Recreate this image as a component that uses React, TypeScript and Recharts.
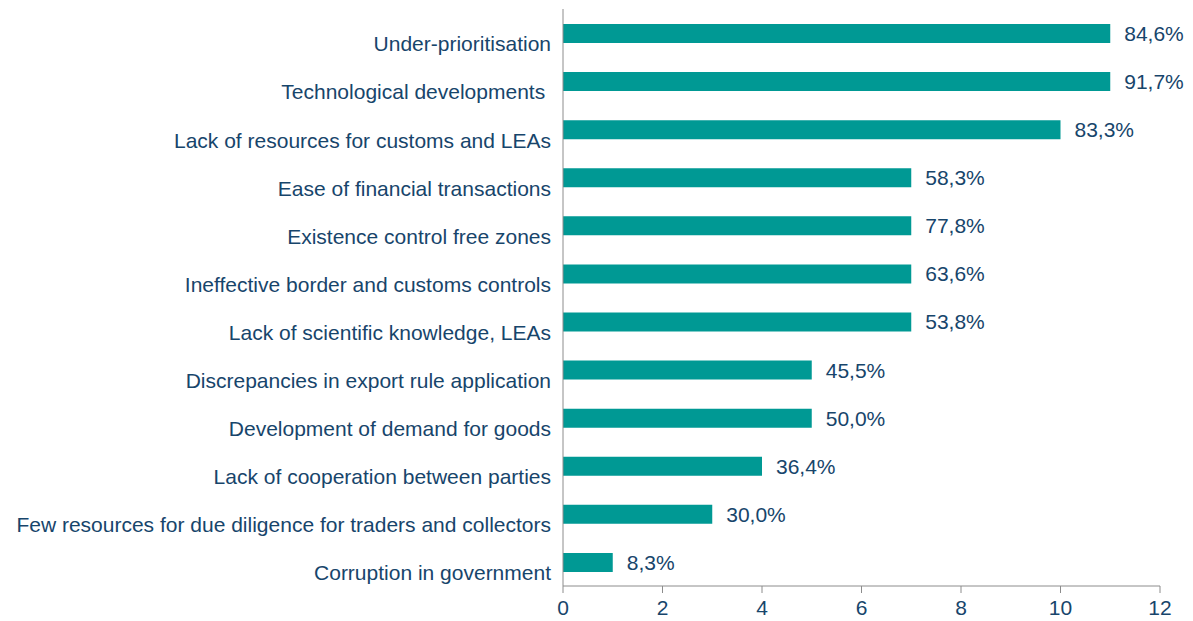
import { BarChart, Bar, XAxis, YAxis, LabelList } from 'recharts'

const categories = [
  'Under-prioritisation',
  'Technological developments ',
  'Lack of resources for customs and LEAs',
  'Ease of financial transactions',
  'Existence control free zones',
  'Ineffective border and customs controls',
  'Lack of scientific knowledge, LEAs',
  'Discrepancies in export rule application',
  'Development of demand for goods',
  'Lack of cooperation between parties',
  'Few resources for due diligence for traders and collectors',
  'Corruption in government',
]
const counts = [11, 11, 10, 7, 7, 7, 7, 5, 5, 4, 3, 1]
const shares = ['84,6%', '91,7%', '83,3%', '58,3%', '77,8%', '63,6%', '53,8%', '45,5%', '50,0%', '36,4%', '30,0%', '8,3%']
const xTicks = [0, 2, 4, 6, 8, 10, 12]

const TEXT = '#17456b'
const AXIS = '#8c8c8c'
const FONT = '"Liberation Sans", Arial, sans-serif'
const SIZE = 21

const data = categories.map((name, i) => ({ name, value: counts[i], share: shares[i] }))

// category labels sit a little below the bar centre, like the original
function CategoryTick({ x, y, payload }: any) {
  return (
    <text
      x={x - 4}
      y={y + 11}
      dy="0.35em"
      textAnchor="end"
      fill={TEXT}
      fontSize={SIZE}
      fontFamily={FONT}
      style={{ whiteSpace: 'pre' }}
    >
      {payload.value}
    </text>
  )
}

export default function App() {
  return (
    <div style={{ fontFamily: FONT }}>
      <BarChart
        width={1185}
        height={613}
        data={data}
        layout="vertical"
        margin={{ top: 1, right: 33, bottom: 5, left: 0 }}
        barCategoryGap={0}
      >
        <XAxis
          type="number"
          domain={[0, 12]}
          ticks={xTicks}
          height={30}
          stroke={AXIS}
          tickSize={7}
          tickMargin={7}
          tick={{ fill: TEXT, fontSize: SIZE, fontFamily: FONT }}
        />
        <YAxis
          type="category"
          dataKey="name"
          width={555}
          stroke={AXIS}
          tickLine={false}
          interval={0}
          tick={<CategoryTick />}
        />
        <Bar dataKey="value" fill="#009994" barSize={19} isAnimationActive={false}>
          <LabelList
            dataKey="share"
            position="right"
            offset={14}
            style={{ fill: TEXT, fontSize: SIZE, fontFamily: FONT }}
          />
        </Bar>
      </BarChart>
    </div>
  )
}
